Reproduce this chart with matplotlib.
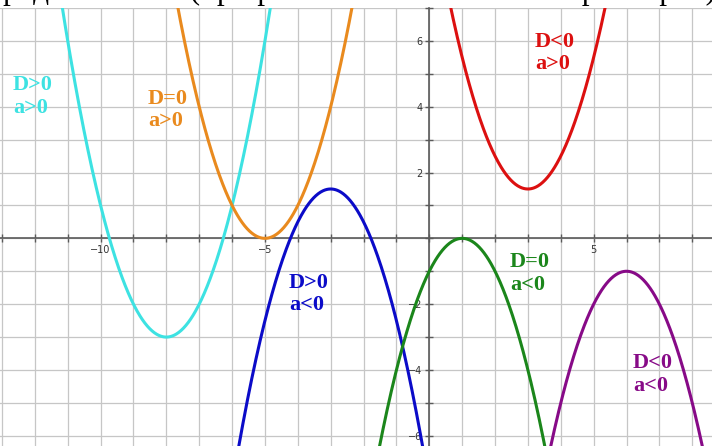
import numpy as np
import matplotlib
matplotlib.use("Agg")
import matplotlib.pyplot as plt
from matplotlib.ticker import FuncFormatter

# parabolas y = a*(x - h)^2 + k
vertex_x = [-8, -5, 3, -3, 1, 6]
vertex_y = [-3, 0, 1.5, 1.5, 0, -1]
lead_a = [1, 1, 1, -1, -1, -1]
cores = ['#3de2e2', '#e98a1e', '#dc1010', '#0b0bc8', '#1b861b', '#870a87']
rotulos = ['D>0\na>0', 'D=0\na>0', 'D<0\na>0', 'D>0\na<0', 'D=0\na<0', 'D<0\na<0']

x_labels = [-10, -5, 5]
y_labels = [-6, -4, -2, 2, 4, 6]

fig = plt.figure(figsize=(7.12, 4.46), dpi=100)
ax = fig.add_axes([0, 0, 1, 438 / 446])

xmin, xmax = -13.06, 8.6
ymin, ymax = -6.31, 7.0

xs = np.linspace(xmin, xmax, 1200)
for h, k, a, c in zip(vertex_x, vertex_y, lead_a, cores):
    ax.plot(xs, a * (xs - h) ** 2 + k, color=c, lw=2.2, zorder=3, solid_capstyle='round')

# rotulos de cada parabola (posicao em coordenadas do grafico)
pos = [(-12.67, 4.31), (-8.56, 3.91), (3.21, 5.63), (-4.27, -1.68), (2.45, -1.07), (6.2, -4.14)]
for (tx, ty), txt, c in zip(pos, rotulos, cores):
    ax.text(tx, ty, txt, color=c, fontsize=16, fontweight='bold', family='Liberation Serif',
            ha='left', va='center', linespacing=1.15, zorder=4)

ax.set_xlim(xmin, xmax)
ax.set_ylim(ymin, ymax)

ax.spines['left'].set_position(('data', 0))
ax.spines['bottom'].set_position(('data', 0))
ax.spines['top'].set_visible(False)
ax.spines['right'].set_visible(False)
for s in ['left', 'bottom']:
    ax.spines[s].set_color('#5a5a5a')
    ax.spines[s].set_linewidth(1.2)

ax.set_xticks(range(-13, 9))
ax.set_yticks(range(-6, 8))
ax.xaxis.set_major_formatter(FuncFormatter(lambda v, p: (str(int(v)).replace('-', '\u2212') if int(round(v)) in x_labels else '')))
ax.yaxis.set_major_formatter(FuncFormatter(lambda v, p: (str(int(v)).replace('-', '\u2212') if int(round(v)) in y_labels else '')))
ax.tick_params(direction='inout', length=6, width=1, color='#5a5a5a', labelsize=7, labelcolor='#333333', pad=2)
ax.grid(True, color='#c6c6c6', lw=0.9)
ax.set_axisbelow(True)

# linha de texto de cima, quase toda cortada (como no original)
fig.text(3 / 712, 1 + 0.5 / 446, 'рядом с осью (при различных значениях параметров)',
         fontsize=22.5, family='Liberation Serif', ha='left', va='baseline', color='black')

fig.savefig('out.png', dpi=100)
